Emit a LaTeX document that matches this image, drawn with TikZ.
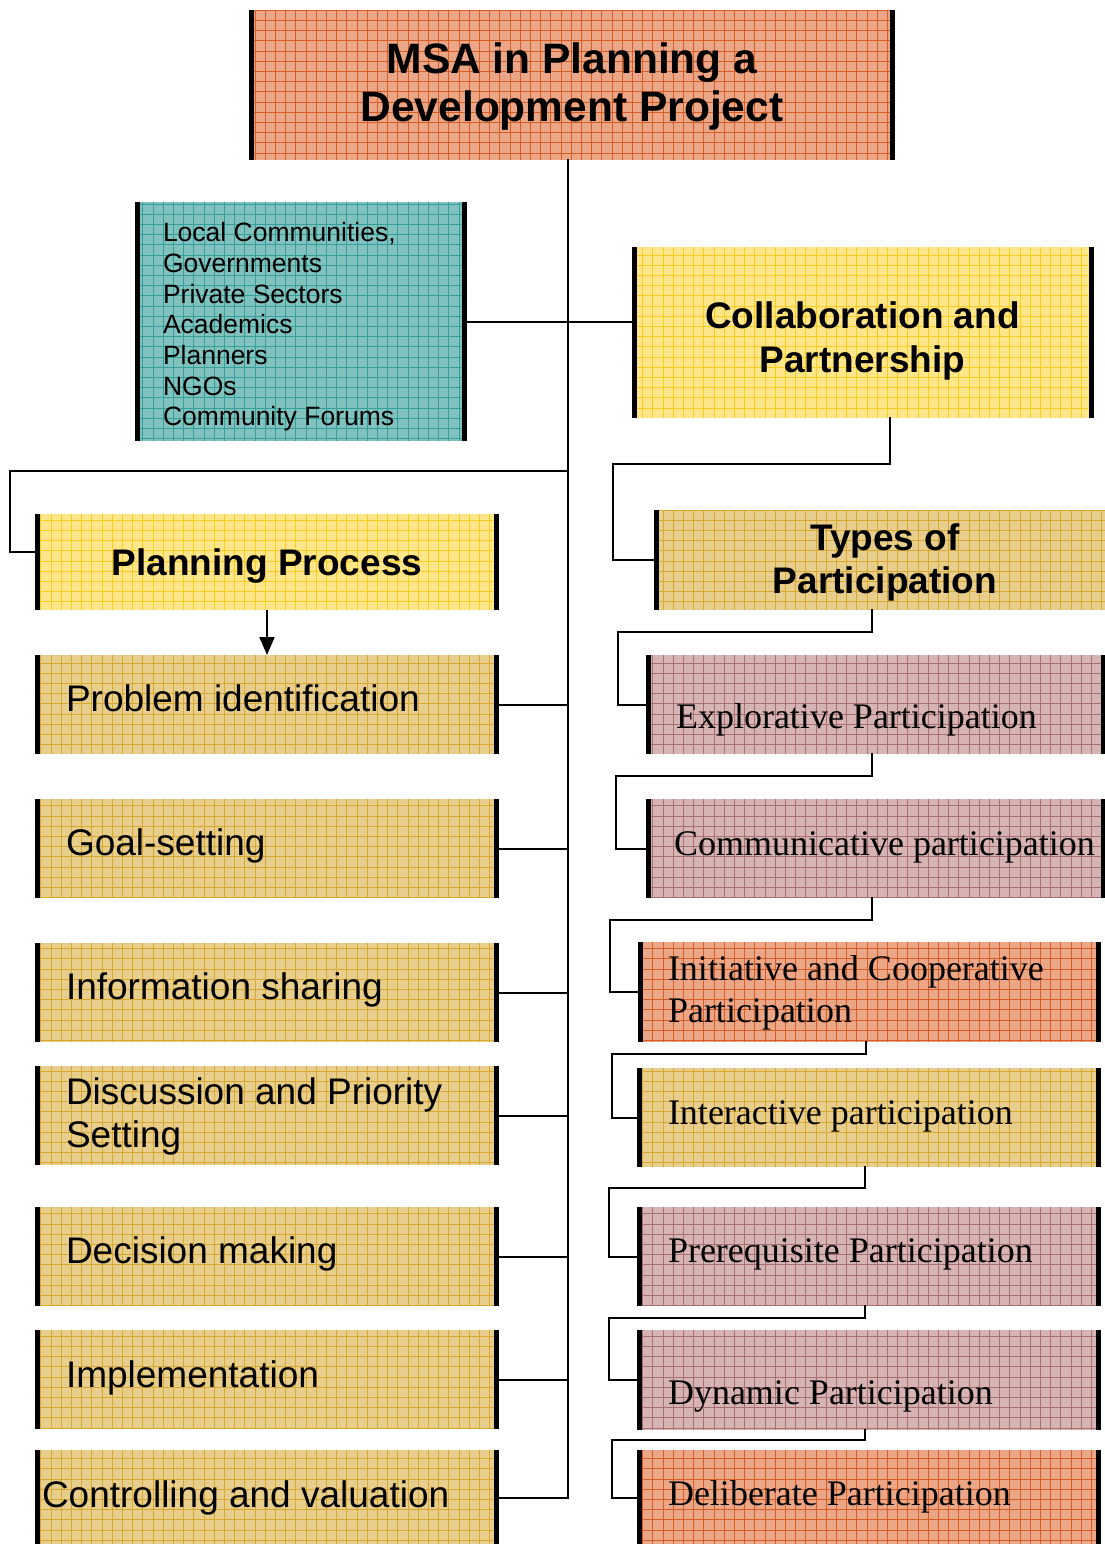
\documentclass[tikz,border=0pt]{standalone}
\usepackage{fontspec}
\setmainfont{Liberation Sans}
\newfontfamily\romanface{Liberation Serif}
\usetikzlibrary{fit,arrows.meta}

% panel colours: fill and grid ruling
\definecolor{salmonfill}{HTML}{EBA688}
\definecolor{salmongrid}{HTML}{D65E24}
\definecolor{tealfill}{HTML}{82C2BE}
\definecolor{tealgrid}{HTML}{35A09B}
\definecolor{yellowfill}{HTML}{FFE68A}
\definecolor{yellowgrid}{HTML}{FCCB1E}
\definecolor{tanfill}{HTML}{E8CE8C}
\definecolor{tangrid}{HTML}{D8A830}
\definecolor{mauvefill}{HTML}{D6B4B4}
\definecolor{mauvegrid}{HTML}{A87070}

\newcommand\headfnt{\fontsize{42.5}{48}\selectfont\bfseries}
\newcommand\boldfnt{\fontsize{37}{44}\selectfont\bfseries}
\newcommand\listfnt{\fontsize{26.5}{30.7}\selectfont}
\newcommand\stepfnt{\fontsize{37}{43}\selectfont}
\newcommand\typefnt{\romanface\fontsize{36}{42}\selectfont}

\tikzset{
  link/.style={line width=2pt, black, line cap=rect},
  bar/.style={line width=5pt, black},
  lbl/.style={inner sep=0pt, outer sep=0pt, anchor=base west},
  clbl/.style={inner sep=0pt, outer sep=0pt, anchor=base},
}

% gridded panel: name, x1, y1, x2, y2, fill colour, grid colour
\newcommand\gridpanel[7]{%
  \node[fit={(#2,#3) (#4,#5)}, inner sep=0pt, outer sep=0pt] (#1) {};
  \fill[#6] (#1.south west) rectangle (#1.north east);
  \begin{scope}
    \clip (#1.south west) rectangle (#1.north east);
    \draw[#7, line width=0.7pt] (#1.south west) grid[step=10.2pt] (#1.north east);
  \end{scope}
}
\newcommand\leftbar[1]{\draw[bar] ([xshift=2.5pt]#1.north west) -- ([xshift=2.5pt]#1.south west);}
\newcommand\rightbar[1]{\draw[bar] ([xshift=-2.5pt]#1.north east) -- ([xshift=-2.5pt]#1.south east);}

\begin{document}
\begin{tikzpicture}[x=1pt, y=-1pt]
\clip (0,0) rectangle (1105,1544);
\fill[white] (0,0) rectangle (1105,1544);

% ---- panels ----
\gridpanel{title}{249}{10}{895}{160}{salmonfill}{salmongrid}
\gridpanel{stake}{135}{202}{467}{441}{tealfill}{tealgrid}
\gridpanel{collab}{632}{247}{1094}{418}{yellowfill}{yellowgrid}
\gridpanel{plan}{35}{514}{499}{610}{yellowfill}{yellowgrid}
\gridpanel{types}{654}{510}{1120}{610}{tanfill}{tangrid}

\gridpanel{prob}{35}{655}{499}{754}{tanfill}{tangrid}
\gridpanel{goal}{35}{799}{499}{898}{tanfill}{tangrid}
\gridpanel{info}{35}{943}{499}{1042}{tanfill}{tangrid}
\gridpanel{disc}{35}{1066}{499}{1165}{tanfill}{tangrid}
\gridpanel{deci}{35}{1207}{499}{1306}{tanfill}{tangrid}
\gridpanel{impl}{35}{1330}{499}{1429}{tanfill}{tangrid}
\gridpanel{ctrl}{35}{1450}{499}{1560}{tanfill}{tangrid}

\gridpanel{explor}{646}{655}{1106}{754}{mauvefill}{mauvegrid}
\gridpanel{comm}{646}{799}{1106}{898}{mauvefill}{mauvegrid}
\gridpanel{init}{638}{942}{1101}{1042}{salmonfill}{salmongrid}
\gridpanel{inter}{637}{1068}{1101}{1167}{tanfill}{tangrid}
\gridpanel{prereq}{637}{1207}{1101}{1306}{mauvefill}{mauvegrid}
\gridpanel{dyn}{637}{1330}{1101}{1430}{mauvefill}{mauvegrid}
\gridpanel{delib}{637}{1450}{1101}{1560}{salmonfill}{salmongrid}

% ---- side bars ----
\foreach \p in {title,stake,collab,plan,prob,goal,info,disc,deci,impl,ctrl,
                explor,comm,init,inter,prereq,dyn,delib}{\leftbar{\p}\rightbar{\p}}
\leftbar{types}

% ---- connectors ----
\coordinate (trunkend) at (568,1498);
\coordinate (planbend) at (10,471);
\draw[link] (title.south -| trunkend) -- (trunkend);
\draw[link] (stake.east) -- (stake.east -| collab.west);
\draw[link] (planbend -| trunkend) -- (planbend) |- ([yshift=10pt]plan.west);
\draw[line width=2pt, -{Triangle[length=18pt,width=15pt]}] (plan.south) -- (prob.north);
\foreach \p in {prob,goal,info,disc,deci,impl}{\draw[link] (\p.east) -- (\p.east -| trunkend);}
\draw[link] (ctrl.east |- trunkend) -- (trunkend);

\draw[link] ([xshift=26.5pt]collab.south) |- (613,464) |- (types.west);
\draw[link] ([xshift=-15pt]types.south) |- (618,632) |- (explor.west);
\draw[link] ([xshift=-4pt]explor.south) |- (616,776) |- (comm.west);
\draw[link] ([xshift=-4pt]comm.south) |- (610,920) |- (init.west);
\draw[link] ([xshift=-3.5pt]init.south) |- (612,1054) |- (inter.west);
\draw[link] ([xshift=-4pt]inter.south) |- (609,1188) |- (prereq.west);
\draw[link] ([xshift=-4pt]prereq.south) |- (609,1318) |- (dyn.west);
\draw[link] ([xshift=-4pt]dyn.south) |- (612,1440) |- (delib.west |- trunkend);

% ---- texts ----
\node[clbl] (titleA) at (572,74) {\headfnt MSA in Planning a};
\node[clbl] (titleB) at (572,122) {\headfnt Development Project};

\node[lbl] (stakeA) at (163,241) {\listfnt Local Communities,};
\node[lbl] (stakeB) at (163,272) {\listfnt Governments};
\node[lbl] (stakeC) at (163,303) {\listfnt Private Sectors};
\node[lbl] (stakeD) at (163,333) {\listfnt Academics};
\node[lbl] (stakeE) at (163,364) {\listfnt Planners};
\node[lbl] (stakeF) at (163,395) {\listfnt NGOs};
\node[lbl] (stakeG) at (163,425) {\listfnt Community Forums};

\node[clbl] (collabA) at (862.5,328) {\boldfnt Collaboration and};
\node[clbl] (collabB) at (862.5,372) {\boldfnt Partnership};
\node[clbl] (planA) at (267,575) {\boldfnt Planning Process};
\node[clbl] (typesA) at (885,550) {\boldfnt Types of};
\node[clbl] (typesB) at (885,593) {\boldfnt Participation};

\node[lbl] (probA) at (66,711) {\stepfnt Problem identification};
\node[lbl] (goalA) at (66,855) {\stepfnt Goal-setting};
\node[lbl] (infoA) at (66,999) {\stepfnt Information sharing};
\node[lbl] (discA) at (66,1104) {\stepfnt Discussion and Priority};
\node[lbl] (discB) at (66,1147) {\stepfnt Setting};
\node[lbl] (deciA) at (66,1263) {\stepfnt Decision making};
\node[lbl] (implA) at (66,1387) {\stepfnt Implementation};
\node[lbl] (ctrlA) at (42,1507) {\stepfnt Controlling and valuation};

\node[lbl] (explorA) at (676,728) {\typefnt Explorative Participation};
\node[lbl] (commA) at (674,855) {\typefnt Communicative participation};
\node[lbl] (initA) at (668,980) {\typefnt Initiative and Cooperative};
\node[lbl] (initB) at (668,1022) {\typefnt Participation};
\node[lbl] (interA) at (668,1124) {\typefnt Interactive participation};
\node[lbl] (prereqA) at (668,1262) {\typefnt Prerequisite Participation};
\node[lbl] (dynA) at (668,1404) {\typefnt Dynamic Participation};
\node[lbl] (delibA) at (668,1505) {\typefnt Deliberate Participation};
\end{tikzpicture}
\end{document}
